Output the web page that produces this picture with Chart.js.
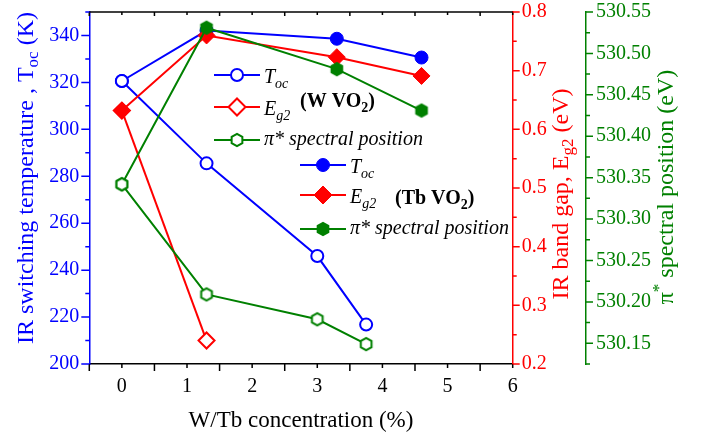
<!DOCTYPE html>
<html>
<head>
<meta charset="utf-8">
<script src="https://cdn.jsdelivr.net/npm/chart.js@4.4.1/dist/chart.umd.min.js"></script>
<style>
  html, body { margin: 0; padding: 0; background: #fff; }
</style>
</head>
<body>
<canvas id="myChart" width="701" height="438"></canvas>
<script>
// concentration (%) for each sample set
var xW = [0, 1.3, 3, 3.75];
var xWgap = [0, 1.3];
var xTb = [0, 1.3, 3.3, 4.6];

// W doped VO2
var tocW = [320.6, 285.5, 246.0, 216.8];
var eg2W = [0.632, 0.240];
var piW = [530.342, 530.209, 530.179, 530.149];

// Tb doped VO2
var tocTb = [320.6, 342.1, 338.6, 330.6];
var eg2Tb = [0.632, 0.760, 0.723, 0.691];
var piTb = [530.342, 530.531, 530.481, 530.431];

// tick labels
var xTicks = [0, 1, 2, 3, 4, 5, 6];
var tocTicks = [200, 220, 240, 260, 280, 300, 320, 340];
var eg2Ticks = [0.2, 0.3, 0.4, 0.5, 0.6, 0.7, 0.8];
var piTicks = [530.15, 530.20, 530.25, 530.30, 530.35, 530.40, 530.45, 530.50, 530.55];

var blue = '#0000ff';
var red = '#ff0000';
var green = '#008000';
var serif = "'Liberation Serif', serif";

function pts(xs, ys) {
    return xs.map(function (x, i) { return { x: x, y: ys[i] }; });
}

// hexagon symbol, no built-in pointStyle for it
function hexagon(filled) {
    var c = document.createElement('canvas');
    c.width = 18; c.height = 18;
    var g = c.getContext('2d');
    var r = filled ? 7.3 : 6.2;
    g.beginPath();
    for (var k = 0; k < 6; k++) {
        var a = Math.PI / 2 + k * Math.PI / 3;
        var px = 9 + r * Math.cos(a), py = 9 + r * Math.sin(a);
        if (k === 0) g.moveTo(px, py); else g.lineTo(px, py);
    }
    g.closePath();
    g.fillStyle = filled ? green : '#fff';
    g.fill();
    if (!filled) {
        g.lineWidth = 2;
        g.strokeStyle = green;
        g.stroke();
    }
    return c;
}
var hexOpen = hexagon(false);
var hexFull = hexagon(true);

function series(data, axis, color, style, radius, open) {
    return {
        data: data,
        yAxisID: axis,
        borderColor: color,
        borderWidth: 2,
        pointStyle: style,
        pointRadius: radius,
        pointBorderColor: color,
        pointBackgroundColor: open ? '#fff' : color,
        pointBorderWidth: open ? 2 : 1,
        tension: 0,
        clip: false
    };
}

// text with sub/superscripts: [text, size, style, dy]
function richWidth(ctx, parts) {
    var w = 0;
    parts.forEach(function (p) {
        ctx.font = (p[2] || 'normal') + ' ' + p[1] + 'px ' + serif;
        w += ctx.measureText(p[0]).width;
    });
    return w;
}
function drawRich(ctx, parts, x, y) {
    var cx = x;
    parts.forEach(function (p) {
        ctx.font = (p[2] || 'normal') + ' ' + p[1] + 'px ' + serif;
        ctx.fillText(p[0], cx, y + (p[3] || 0));
        cx += ctx.measureText(p[0]).width;
    });
}
function drawVertical(ctx, parts, baseX, centerY, color) {
    ctx.save();
    ctx.fillStyle = color;
    ctx.translate(baseX, centerY);
    ctx.rotate(-Math.PI / 2);
    drawRich(ctx, parts, -richWidth(ctx, parts) / 2, 0);
    ctx.restore();
}

// major and minor tick marks
function tickMarks(ctx, scale, from, count, step, every, pos, dir, horizontal, color, big, small) {
    ctx.save();
    ctx.strokeStyle = color;
    ctx.lineWidth = 1.5;
    ctx.beginPath();
    for (var i = 0; i < count; i++) {
        var p = scale.getPixelForValue(from + i * step);
        var len = (i % every === 0) ? big : small;
        if (horizontal) {
            ctx.moveTo(p, pos);
            ctx.lineTo(p, pos + dir * len);
        } else {
            ctx.moveTo(pos, p);
            ctx.lineTo(pos + dir * len, p);
        }
    }
    ctx.stroke();
    ctx.restore();
}

var legendRows = [
    { x: 237, y: 75, color: blue, style: 'circle', r: 6, open: true, text: [['T', 20, 'italic'], ['oc', 14, 'italic', 5]], dy: 8 },
    { x: 237, y: 107, color: red, style: 'rectRot', r: 8.5, open: true, text: [['E', 20, 'italic'], ['g2', 14, 'italic', 5]], dy: 8 },
    { x: 237, y: 140, color: green, style: hexOpen, r: 7, open: true, text: [['\u03c0* spectral position', 20, 'italic']], dy: 5 },
    { x: 323, y: 165, color: blue, style: 'circle', r: 6.5, open: false, text: [['T', 20, 'italic'], ['oc', 14, 'italic', 5]], dy: 8 },
    { x: 323, y: 195, color: red, style: 'rectRot', r: 9, open: false, text: [['E', 20, 'italic'], ['g2', 14, 'italic', 5]], dy: 8 },
    { x: 323, y: 229, color: green, style: hexFull, r: 7, open: false, text: [['\u03c0* spectral position', 20, 'italic']], dy: 5 }
];

var decorations = {
    id: 'decorations',
    afterDraw: function (chart) {
        var ctx = chart.ctx;
        var area = chart.chartArea;
        var s = chart.scales;

        // top frame line
        ctx.save();
        ctx.strokeStyle = '#000';
        ctx.lineWidth = 1.5;
        ctx.beginPath();
        ctx.moveTo(area.left, area.top);
        ctx.lineTo(area.right, area.top);
        ctx.stroke();
        ctx.restore();

        tickMarks(ctx, s.x, -0.5, 14, 0.5, 2, area.bottom, 1, true, '#000', 7, 4);
        tickMarks(ctx, s.x, -0.5, 14, 0.5, 2, area.top, 1, true, '#000', 4, 3);
        tickMarks(ctx, s.y, 200, 16, 10, 2, area.left, -1, false, blue, 8, 4);
        tickMarks(ctx, s.yE, 0.2, 13, 0.05, 2, s.yE.left, 1, false, red, 7, 4);
        tickMarks(ctx, s.yP, 530.15, 9, 0.05, 1, s.yP.left, 1, false, green, 7, 4);
        tickMarks(ctx, s.yP, 530.125, 9, 0.05, 1, s.yP.left, 1, false, green, 4, 4);

        // axis titles
        drawVertical(ctx, [['IR switching temperature , T', 24], ['oc', 17, '', 5], [' (K)', 24]], 33, 178, blue);
        drawVertical(ctx, [['IR band gap, E', 24], ['g2', 17, '', 5], [' (eV)', 24]], 568, 194, red);
        drawVertical(ctx, [['\u03c0', 24], ['*', 17, '', -9], [' spectral position (eV)', 24]], 673, 187, green);
        ctx.save();
        ctx.fillStyle = '#000';
        var xt = [['W/Tb concentration (%)', 23]];
        drawRich(ctx, xt, (area.left + area.right) / 2 - richWidth(ctx, xt) / 2, 427);
        ctx.restore();

        // legends
        legendRows.forEach(function (row) {
            ctx.save();
            ctx.strokeStyle = row.color;
            ctx.lineWidth = 2;
            ctx.beginPath();
            ctx.moveTo(row.x - 23, row.y);
            ctx.lineTo(row.x + 23, row.y);
            ctx.stroke();
            ctx.fillStyle = row.open ? '#fff' : row.color;
            ctx.lineWidth = row.open ? 2 : 1;
            Chart.helpers.drawPoint(ctx, { pointStyle: row.style, radius: row.r, rotation: 0, borderWidth: ctx.lineWidth }, row.x, row.y);
            ctx.fillStyle = '#000';
            drawRich(ctx, row.text, row.x + 27, row.y + row.dy);
            ctx.restore();
        });
        ctx.save();
        ctx.fillStyle = '#000';
        drawRich(ctx, [['(W VO', 20, 'bold'], ['2', 14, 'bold', 5], [')', 20, 'bold']], 300, 107);
        drawRich(ctx, [['(Tb VO', 20, 'bold'], ['2', 14, 'bold', 5], [')', 20, 'bold']], 395, 204);
        ctx.restore();
    }
};

function fixedTicks(list) {
    return function (scale) {
        scale.ticks = list.map(function (v) { return { value: v }; });
    };
}
// fixed box sizes, no extra room for the end labels
function boxWidth(w) {
    return function (s) { s.width = w; s.paddingTop = 0; s.paddingBottom = 0; };
}

function buildChart() {
    var ctx = document.getElementById('myChart').getContext('2d');
    var myChart = new Chart(ctx, {
        type: 'line',
        data: {
            datasets: [
                series(pts(xW, piW), 'yP', green, hexOpen, 7, true),
                series(pts(xTb, piTb), 'yP', green, hexFull, 7, false),
                series(pts(xTb, eg2Tb), 'yE', red, 'rectRot', 8.5, false),
                series(pts(xWgap, eg2W), 'yE', red, 'rectRot', 8, true),
                series(pts(xW, tocW), 'y', blue, 'circle', 6, true),
                series(pts(xTb, tocTb), 'y', blue, 'circle', 6.5, false)
            ]
        },
        options: {
            responsive: false,
            animation: false,
            layout: { padding: { top: 12, left: 0, right: 0, bottom: 0 } },
            plugins: {
                legend: { display: false },
                tooltip: { enabled: false }
            },
            scales: {
                x: {
                    type: 'linear',
                    position: 'bottom',
                    min: -0.5,
                    max: 6,
                    afterBuildTicks: fixedTicks(xTicks),
                    afterFit: function (s) { s.height = 74; s.paddingLeft = 0; s.paddingRight = 0; },
                    grid: { display: false, drawTicks: false },
                    border: { color: '#000', width: 1.5 },
                    ticks: { autoSkip: false, maxRotation: 0, padding: 11, color: '#000', font: { family: serif, size: 20 } }
                },
                y: {
                    position: 'left',
                    min: 200,
                    max: 350,
                    afterBuildTicks: fixedTicks(tocTicks),
                    afterFit: boxWidth(89.3),
                    grid: { display: false, drawTicks: false },
                    border: { color: blue, width: 1.5 },
                    ticks: { autoSkip: false, padding: 10, color: blue, font: { family: serif, size: 20 } }
                },
                yE: {
                    position: 'right',
                    min: 0.2,
                    max: 0.8,
                    afterBuildTicks: fixedTicks(eg2Ticks),
                    afterFit: boxWidth(73.3),
                    grid: { display: false, drawTicks: false },
                    border: { color: red, width: 1.5 },
                    ticks: {
                        autoSkip: false, padding: 9, color: red, font: { family: serif, size: 20 },
                        callback: function (v) { return v.toFixed(1); }
                    }
                },
                yP: {
                    position: 'right',
                    min: 530.125,
                    max: 530.55,
                    afterBuildTicks: fixedTicks(piTicks),
                    afterFit: boxWidth(115),
                    grid: { display: false, drawTicks: false },
                    border: { color: green, width: 1.5 },
                    ticks: {
                        autoSkip: false, padding: 10, color: green, font: { family: serif, size: 20 },
                        callback: function (v) { return v.toFixed(2); }
                    }
                }
            }
        },
        plugins: [decorations]
    });
}

// make sure the serif faces are ready before drawing on the canvas
Promise.all([
    document.fonts.load('20px "Liberation Serif"'),
    document.fonts.load('italic 20px "Liberation Serif"'),
    document.fonts.load('bold 20px "Liberation Serif"')
]).then(buildChart, buildChart);
</script>
</body>
</html>
